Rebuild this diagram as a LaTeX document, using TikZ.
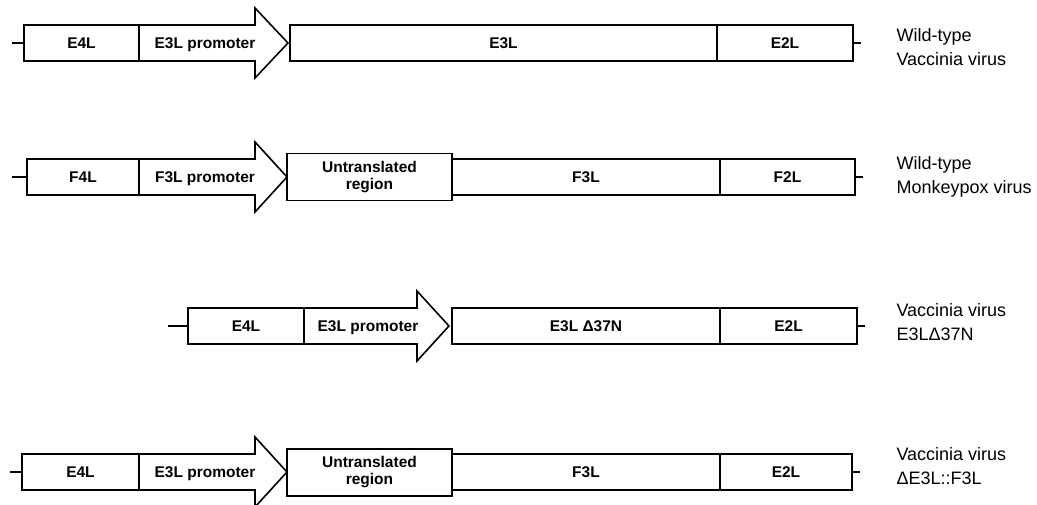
\documentclass[tikz,border=0pt]{standalone}
\usepackage{fontspec}
\setmainfont{Liberation Sans}
\tikzset{
  gene/.style={draw, line width=1.6pt, inner sep=0pt, minimum height=36,
    font=\bfseries\fontsize{15.5}{17}\selectfont},
  utr/.style={gene, minimum height=47, align=center},
  promo/.style={draw, line width=1.6pt, line join=miter},
  promotext/.style={font=\bfseries\fontsize{15.5}{17}\selectfont, text depth=0pt},
  stub/.style={line width=1.6pt},
  virus/.style={anchor=west, align=left, font=\fontsize{18}{24}\selectfont}
}
\begin{document}
\begin{tikzpicture}[x=1pt, y=-1pt]
  \useasboundingbox (0,0) rectangle (1037,505);

  % Wild-type vaccinia
  \coordinate (a0) at (12,43);
  \node[gene, minimum width=115] (a1) at (81.5,43) {E4L};
  \draw[promo] (139,25) -- (255,25) -- (255,8) -- (288,43) -- (255,78) -- (255,61) -- (139,61);
  \node[promotext] (a2) at (205,43) {E3L promoter};
  \node[gene, minimum width=427] (a3) at (503.5,43) {E3L};
  \node[gene, minimum width=136] (a4) at (785,43) {E2L};
  \coordinate (a5) at (861,43);
  \draw[stub] (a0) -- (a1.west);
  \draw[stub] (a4.east) -- (a5);
  \node[virus] (va) at (893,47) {Wild-type\\Vaccinia virus};

  % Wild-type monkeypox
  \coordinate (b0) at (12,177);
  \node[gene, minimum width=112] (b1) at (83,177) {F4L};
  \draw[promo] (139,159) -- (255,159) -- (255,142) -- (287,177) -- (255,212) -- (255,195) -- (139,195);
  \node[promotext] (b2) at (205,177) {F3L promoter};
  \node[utr, minimum width=165] (b3) at (369.5,177) {Untranslated\\region};
  \node[gene, minimum width=268] (b4) at (586,177) {F3L};
  \node[gene, minimum width=135] (b5) at (787.5,177) {F2L};
  \coordinate (b6) at (863,177);
  \draw[stub] (b0) -- (b1.west);
  \draw[stub] (b5.east) -- (b6);
  \node[virus] (vb) at (893,177) {Wild-type\\Monkeypox virus};

  % Vaccinia E3L delta 37N
  \coordinate (c0) at (168,326);
  \node[gene, minimum width=116] (c1) at (246,326) {E4L};
  \draw[promo] (304,308) -- (417,308) -- (417,291) -- (449,326) -- (417,361) -- (417,344) -- (304,344);
  \node[promotext] (c2) at (368,326) {E3L promoter};
  \node[gene, minimum width=268] (c3) at (586,326) {E3L Δ37N};
  \node[gene, minimum width=137] (c4) at (788.5,326) {E2L};
  \coordinate (c5) at (865,326);
  \draw[stub] (c0) -- (c1.west);
  \draw[stub] (c4.east) -- (c5);
  \node[virus] (vc) at (893,322) {Vaccinia virus\\E3LΔ37N};

  % Vaccinia delta E3L::F3L
  \coordinate (d0) at (10,472);
  \node[gene, minimum width=117] (d1) at (80.5,472) {E4L};
  \draw[promo] (139,454) -- (255,454) -- (255,437) -- (287,472) -- (255,507) -- (255,490) -- (139,490);
  \node[promotext] (d2) at (205,472) {E3L promoter};
  \node[utr, minimum width=165] (d3) at (369.5,472.5) {Untranslated\\region};
  \node[gene, minimum width=268] (d4) at (586,472) {F3L};
  \node[gene, minimum width=132] (d5) at (786,472) {E2L};
  \coordinate (d6) at (860,472);
  \draw[stub] (d0) -- (d1.west);
  \draw[stub] (d5.east) -- (d6);
  \node[virus] (vd) at (893,466) {Vaccinia virus\\ΔE3L::F3L};
\end{tikzpicture}
\end{document}
